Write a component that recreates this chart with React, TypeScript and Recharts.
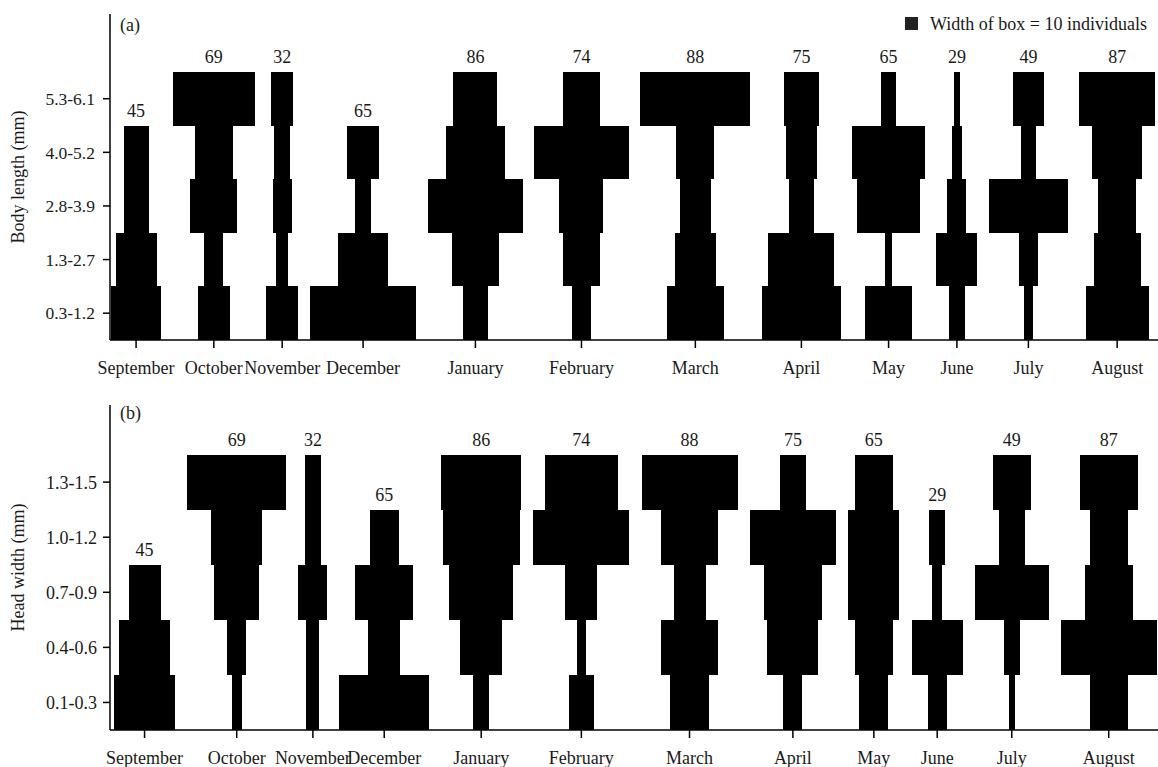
import React from "react";
import { ComposedChart, XAxis, YAxis, ReferenceArea, Scatter, Legend } from "recharts";

const months = [
  "September", "October", "November", "December", "January", "February",
  "March", "April", "May", "June", "July", "August",
];
const sampleSizes = [45, 69, 32, 65, 86, 74, 88, 75, 65, 29, 49, 87];

// (a) body length classes, smallest first
const lengthClasses = ["0.3-1.2", "1.3-2.7", "2.8-3.9", "4.0-5.2", "5.3-6.1"];
// individuals per class for each month (same order as lengthClasses)
const lengthCounts = [
  [16, 13, 8, 8, 0], // Sep
  [10, 6, 15, 12, 26], // Oct
  [10, 4, 6, 5, 7], // Nov
  [34, 16, 5, 10, 0], // Dec
  [8, 15, 30, 19, 14], // Jan
  [6, 12, 14, 30, 12], // Feb
  [18, 13, 10, 12, 35], // Mar
  [25, 21, 8, 10, 11], // Apr
  [15, 2, 20, 23, 5], // May
  [5, 13, 6, 3, 2], // Jun
  [3, 6, 25, 5, 10], // Jul
  [20, 15, 12, 16, 24], // Aug
];

// (b) head width classes, smallest first
const headClasses = ["0.1-0.3", "0.4-0.6", "0.7-0.9", "1.0-1.2", "1.3-1.5"];
const headCounts = [
  [19, 16, 10, 0, 0], // Sep
  [3, 6, 14, 16, 31], // Oct
  [4, 4, 9, 5, 5], // Nov
  [28, 10, 18, 9, 0], // Dec
  [5, 13, 20, 24, 25], // Jan
  [8, 3, 10, 30, 23], // Feb
  [12, 18, 10, 18, 30], // Mar
  [6, 16, 18, 27, 8], // Apr
  [9, 12, 16, 16, 12], // May
  [6, 16, 3, 5, 0], // Jun
  [2, 5, 23, 8, 12], // Jul
  [12, 30, 15, 12, 18], // Aug
];

const FONT = '"Liberation Serif", "Times New Roman", serif';
const INK = "#1a1a1a";

// months sit side by side, each as wide as its widest class, with a fixed gap
function kiteLayout(counts: number[][], gap: number) {
  const centers: number[] = [];
  let pos = 0;
  counts.forEach((row) => {
    const w = Math.max(...row);
    centers.push(pos + w / 2);
    pos += w + gap;
  });
  return { centers, total: pos - gap };
}

const Box = (props: any) => (
  <rect
    x={props.x}
    y={props.y}
    width={props.width}
    height={props.height}
    fill="#000"
    shapeRendering="crispEdges"
  />
);

const NLabel = (props: any) => (
  <text
    x={props.cx}
    y={props.cy - 9}
    textAnchor="middle"
    fontSize={18}
    fontFamily={FONT}
    fill={INK}
  >
    {props.payload.n}
  </text>
);

const sideTitle = (text: string) => (props: any) => {
  const vb = props.viewBox || {};
  const cy = (vb.y ?? 0) + (vb.height ?? 0) / 2;
  return (
    <text
      x={18}
      y={cy}
      transform={`rotate(-90 18 ${cy})`}
      textAnchor="middle"
      dominantBaseline="central"
      fontSize={18}
      fontFamily={FONT}
      fill={INK}
    >
      {text}
    </text>
  );
};

const BoxLegend = () => (
  <div style={{ display: "flex", alignItems: "center", fontFamily: FONT, fontSize: 18, color: INK, lineHeight: "18px", whiteSpace: "nowrap" }}>
    <span style={{ display: "inline-block", width: 13, height: 13, background: "#222", marginRight: 12 }} />
    <span>Width of box = 10 individuals</span>
  </div>
);

function KitePanel({
  tag, tagTop, classes, counts, title, gap, startPad, endPad, yMax,
  height, marginTop, xAxisHeight, yTickMargin, tickFont, legend,
}: {
  tag: string; tagTop: number; classes: string[]; counts: number[][]; title: string;
  gap: number; startPad: number; endPad: number; yMax: number; height: number;
  marginTop: number; xAxisHeight: number; yTickMargin: number; tickFont: number; legend?: boolean;
}) {
  const { centers, total } = kiteLayout(counts, gap);
  const labels = counts.map((row, i) => {
    let top = 0;
    row.forEach((c, j) => { if (c > 0) top = j + 1; });
    return { x: centers[i], y: top, n: sampleSizes[i] };
  });

  return (
    <div style={{ position: "relative", width: 1158, height }}>
      <ComposedChart width={1158} height={height} margin={{ top: marginTop, right: 0, bottom: 0, left: 0 }}>
        <XAxis
          type="number"
          dataKey="x"
          domain={[-startPad, total + endPad]}
          allowDataOverflow
          ticks={centers}
          interval={0}
          tickFormatter={(v: number) => months[centers.indexOf(v)] ?? ""}
          height={xAxisHeight}
          tickSize={8}
          tickMargin={13}
          axisLine={{ stroke: "#000", strokeWidth: 1.5 }}
          tickLine={{ stroke: "#000", strokeWidth: 1.5 }}
          tick={{ fontSize: 18, fill: INK, fontFamily: FONT }}
        />
        <YAxis
          type="number"
          dataKey="y"
          domain={[0, yMax]}
          allowDataOverflow
          ticks={[0.5, 1.5, 2.5, 3.5, 4.5]}
          interval={0}
          tickFormatter={(v: number) => classes[Math.floor(v)]}
          width={110}
          tickSize={7}
          tickMargin={yTickMargin}
          axisLine={{ stroke: "#000", strokeWidth: 1.5 }}
          tickLine={{ stroke: "#000", strokeWidth: 1.5 }}
          tick={{ fontSize: tickFont, fill: INK, fontFamily: FONT }}
          label={sideTitle(title)}
        />
        {counts.map((row, i) =>
          row.map((c, j) =>
            c > 0 ? (
              <ReferenceArea
                key={`${i}-${j}`}
                x1={centers[i] - c / 2}
                x2={centers[i] + c / 2}
                y1={j}
                y2={j + 1}
                ifOverflow="visible"
                shape={Box}
              />
            ) : null
          )
        )}
        <Scatter data={labels} shape={NLabel} legendType="none" isAnimationActive={false} />
        {legend && (
          <Legend
            layout="horizontal"
            verticalAlign="middle"
            align="center"
            wrapperStyle={{ position: "absolute", top: 14.5, left: 905, width: 253, height: 18 }}
            content={BoxLegend}
          />
        )}
      </ComposedChart>
      <div style={{ position: "absolute", left: 120, top: tagTop, fontFamily: FONT, fontSize: 18, lineHeight: "18px", color: INK }}>
        {tag}
      </div>
    </div>
  );
}

export default function App() {
  return (
    <div style={{ position: "absolute", left: 0, top: 0, width: 1158, height: 767, background: "#fff" }}>
      <KitePanel
        tag="(a)"
        tagTop={16}
        classes={lengthClasses}
        counts={lengthCounts}
        title="Body length (mm)"
        gap={3.75}
        startPad={0.3}
        endPad={1.0}
        yMax={6.08}
        height={383}
        marginTop={14}
        xAxisHeight={43}
        yTickMargin={8}
        tickFont={17.5}
        legend
      />
      <KitePanel
        tag="(b)"
        tagTop={21}
        classes={headClasses}
        counts={headCounts}
        title="Head width (mm)"
        gap={3.8}
        startPad={1.3}
        endPad={0.4}
        yMax={5.9}
        height={384}
        marginTop={22}
        xAxisHeight={37}
        yTickMargin={6}
        tickFont={18}
      />
    </div>
  );
}
